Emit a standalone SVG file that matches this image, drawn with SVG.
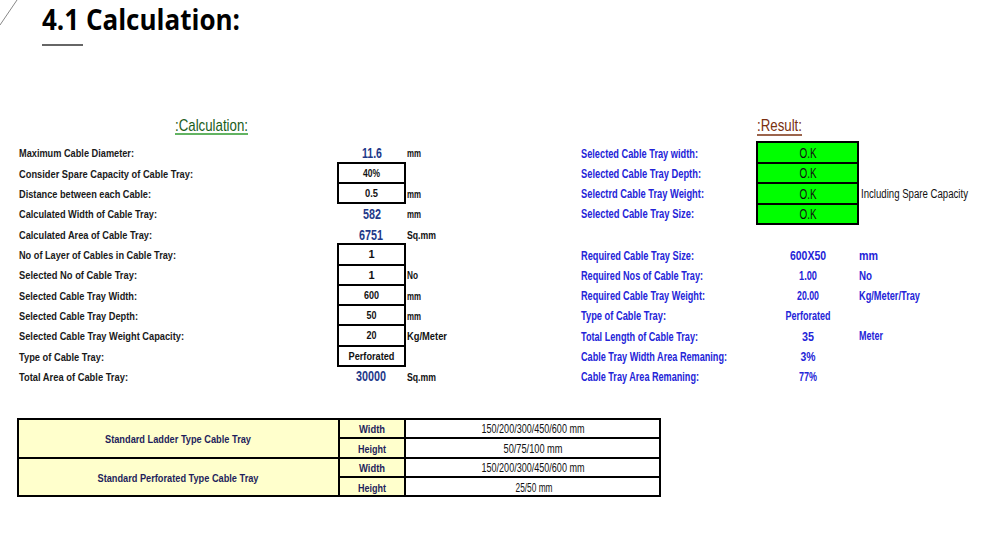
<svg xmlns="http://www.w3.org/2000/svg" width="1000" height="537" viewBox="0 0 1000 537">
<style>
.lbl{font-family:"Liberation Sans",Arial,sans-serif;font-weight:bold;font-size:11.5px;fill:#1a1a1a}
.val{font-family:"Liberation Sans",Arial,sans-serif;font-weight:bold;font-size:14px;fill:#1f3a8a;text-anchor:middle}
.bv{font-family:"Liberation Sans",Arial,sans-serif;font-weight:bold;font-size:11px;fill:#111;text-anchor:middle}
.unit{font-family:"Liberation Sans",Arial,sans-serif;font-weight:bold;font-size:11px;fill:#111}
.rl{font-family:"Liberation Sans",Arial,sans-serif;font-weight:bold;font-size:13.5px;fill:#2424d8}
.rv{font-family:"Liberation Sans",Arial,sans-serif;font-weight:bold;font-size:13.5px;fill:#2424d8;text-anchor:middle}
.ok{font-family:"Liberation Sans",Arial,sans-serif;font-size:14px;fill:#111;text-anchor:middle}
.box{fill:#fff;stroke:#000;stroke-width:2}
.gbox{fill:#00ff00;stroke:#000;stroke-width:2}
.ycell{fill:#ffffcc;stroke:#000;stroke-width:2}
.wcell{fill:#fff;stroke:#000;stroke-width:2}
.tl{font-family:"Liberation Sans",Arial,sans-serif;font-weight:bold;font-size:11.5px;fill:#1f1f5c;text-anchor:middle}
.tv{font-family:"Liberation Sans",Arial,sans-serif;font-size:12px;fill:#111;text-anchor:middle}
</style>
<rect width="1000" height="537" fill="#fff"/>
<line x1="0" y1="25" x2="17" y2="0" stroke="#888" stroke-width="1"/>
<g id="title">
<text x="42" y="30" font-family="'Open Sans',sans-serif" font-weight="bold" font-size="28" fill="#000" textLength="198" lengthAdjust="spacingAndGlyphs">4.1 Calculation:</text>
<line x1="42" y1="45" x2="83" y2="45" stroke="#333" stroke-width="1.5"/>
</g>
<g id="calc-header">
<text x="175" y="131" font-family="'Liberation Sans',Arial,sans-serif" font-size="17" fill="#1a5c1a" textLength="73" lengthAdjust="spacingAndGlyphs">:Calculation:</text>
<line x1="175" y1="134" x2="248" y2="134" stroke="#2e9a2e" stroke-width="1.5"/>
</g>
<g id="result-header">
<text x="757" y="131" font-family="'Liberation Sans',Arial,sans-serif" font-size="17" fill="#7a3010" textLength="45" lengthAdjust="spacingAndGlyphs">:Result:</text>
<line x1="757" y1="135" x2="802" y2="135" stroke="#7a3010" stroke-width="1.5"/>
</g>
<g id="calc-labels">
<text class="lbl" x="19" y="157" textLength="115" lengthAdjust="spacingAndGlyphs">Maximum Cable Diameter:</text>
<text class="lbl" x="19" y="178" textLength="174" lengthAdjust="spacingAndGlyphs">Consider Spare Capacity of Cable Tray:</text>
<text class="lbl" x="19" y="198" textLength="132" lengthAdjust="spacingAndGlyphs">Distance between each Cable:</text>
<text class="lbl" x="19" y="218" textLength="138" lengthAdjust="spacingAndGlyphs">Calculated Width of Cable Tray:</text>
<text class="lbl" x="19" y="239" textLength="133" lengthAdjust="spacingAndGlyphs">Calculated Area of Cable Tray:</text>
<text class="lbl" x="19" y="259" textLength="157" lengthAdjust="spacingAndGlyphs">No of Layer of Cables in Cable Tray:</text>
<text class="lbl" x="19" y="279" textLength="118" lengthAdjust="spacingAndGlyphs">Selected No of Cable Tray:</text>
<text class="lbl" x="19" y="300" textLength="118" lengthAdjust="spacingAndGlyphs">Selected Cable Tray Width:</text>
<text class="lbl" x="19" y="320" textLength="119" lengthAdjust="spacingAndGlyphs">Selected Cable Tray Depth:</text>
<text class="lbl" x="19" y="340" textLength="165" lengthAdjust="spacingAndGlyphs">Selected Cable Tray Weight Capacity:</text>
<text class="lbl" x="19" y="361" textLength="85" lengthAdjust="spacingAndGlyphs">Type of Cable Tray:</text>
<text class="lbl" x="19" y="381" textLength="109" lengthAdjust="spacingAndGlyphs">Total Area of Cable Tray:</text>
</g>
<g id="calc-boxes">
<rect class="box" x="338" y="163" width="67" height="20"/>
<rect class="box" x="338" y="183" width="67" height="20"/>
<rect class="box" x="338" y="244" width="67" height="21"/>
<rect class="box" x="338" y="265" width="67" height="20"/>
<rect class="box" x="338" y="285" width="67" height="20"/>
<rect class="box" x="338" y="305" width="67" height="20"/>
<rect class="box" x="338" y="325" width="67" height="21"/>
<rect class="box" x="338" y="346" width="67" height="20"/>
</g>
<g id="calc-values">
<text class="val" x="372" y="158" textLength="20" lengthAdjust="spacingAndGlyphs">11.6</text>
<text class="bv" x="371.5" y="177" textLength="17" lengthAdjust="spacingAndGlyphs">40%</text>
<text class="bv" x="371.5" y="197" textLength="13" lengthAdjust="spacingAndGlyphs">0.5</text>
<text class="val" x="372" y="219" textLength="18" lengthAdjust="spacingAndGlyphs">582</text>
<text class="val" x="371" y="240" textLength="24" lengthAdjust="spacingAndGlyphs">6751</text>
<text class="bv" x="371.5" y="258">1</text>
<text class="bv" x="371.5" y="279">1</text>
<text class="bv" x="371.5" y="299" textLength="15" lengthAdjust="spacingAndGlyphs">600</text>
<text class="bv" x="371.5" y="319" textLength="10" lengthAdjust="spacingAndGlyphs">50</text>
<text class="bv" x="371.5" y="339" textLength="10" lengthAdjust="spacingAndGlyphs">20</text>
<text class="bv" x="371.5" y="360" textLength="46" lengthAdjust="spacingAndGlyphs">Perforated</text>
<text class="val" x="371" y="381" textLength="30" lengthAdjust="spacingAndGlyphs">30000</text>
</g>
<g id="calc-units">
<text class="unit" x="407" y="157" textLength="14" lengthAdjust="spacingAndGlyphs">mm</text>
<text class="unit" x="407" y="198" textLength="14" lengthAdjust="spacingAndGlyphs">mm</text>
<text class="unit" x="407" y="218" textLength="14" lengthAdjust="spacingAndGlyphs">mm</text>
<text class="unit" x="407" y="239" textLength="29" lengthAdjust="spacingAndGlyphs">Sq.mm</text>
<text class="unit" x="407" y="279" textLength="11" lengthAdjust="spacingAndGlyphs">No</text>
<text class="unit" x="407" y="300" textLength="14" lengthAdjust="spacingAndGlyphs">mm</text>
<text class="unit" x="407" y="320" textLength="14" lengthAdjust="spacingAndGlyphs">mm</text>
<text class="unit" x="407" y="340" textLength="40" lengthAdjust="spacingAndGlyphs">Kg/Meter</text>
<text class="unit" x="407" y="381" textLength="29" lengthAdjust="spacingAndGlyphs">Sq.mm</text>
</g>
<g id="result-checks">
<text class="rl" x="581" y="158" textLength="117" lengthAdjust="spacingAndGlyphs">Selected Cable Tray width:</text>
<text class="rl" x="581" y="178" textLength="120" lengthAdjust="spacingAndGlyphs">Selected  Cable Tray Depth:</text>
<text class="rl" x="581" y="198" textLength="123" lengthAdjust="spacingAndGlyphs">Selectrd  Cable Tray Weight:</text>
<text class="rl" x="581" y="218" textLength="113" lengthAdjust="spacingAndGlyphs">Selected  Cable Tray Size:</text>
<rect class="gbox" x="757" y="142" width="101" height="21"/>
<rect class="gbox" x="757" y="163" width="101" height="20"/>
<rect class="gbox" x="757" y="183" width="101" height="21"/>
<rect class="gbox" x="757" y="204" width="101" height="20"/>
<text class="ok" x="808" y="158" textLength="17" lengthAdjust="spacingAndGlyphs">O.K</text>
<text class="ok" x="808" y="178" textLength="17" lengthAdjust="spacingAndGlyphs">O.K</text>
<text class="ok" x="808" y="199" textLength="17" lengthAdjust="spacingAndGlyphs">O.K</text>
<text class="ok" x="808" y="219" textLength="17" lengthAdjust="spacingAndGlyphs">O.K</text>
<text x="861" y="198" font-family="'Liberation Sans',Arial,sans-serif" font-size="12" fill="#111" textLength="107" lengthAdjust="spacingAndGlyphs">Including Spare Capacity</text>
</g>
<g id="result-values">
<text class="rl" x="581" y="260" textLength="113" lengthAdjust="spacingAndGlyphs">Required Cable Tray Size:</text>
<text class="rl" x="581" y="280" textLength="122" lengthAdjust="spacingAndGlyphs">Required Nos of Cable Tray:</text>
<text class="rl" x="581" y="300" textLength="124" lengthAdjust="spacingAndGlyphs">Required Cable Tray Weight:</text>
<text class="rl" x="581" y="320" textLength="85" lengthAdjust="spacingAndGlyphs">Type of Cable Tray:</text>
<text class="rl" x="581" y="341" textLength="117" lengthAdjust="spacingAndGlyphs">Total Length of Cable Tray:</text>
<text class="rl" x="581" y="361" textLength="146" lengthAdjust="spacingAndGlyphs">Cable Tray Width Area Remaning:</text>
<text class="rl" x="581" y="381" textLength="118" lengthAdjust="spacingAndGlyphs">Cable Tray Area Remaning:</text>
<text class="rv" x="808" y="260" font-size="15" textLength="36" lengthAdjust="spacingAndGlyphs">600X50</text>
<text class="rv" x="808" y="280" textLength="18" lengthAdjust="spacingAndGlyphs">1.00</text>
<text class="rv" x="808" y="300" textLength="22" lengthAdjust="spacingAndGlyphs">20.00</text>
<text class="rv" x="808" y="320" textLength="45" lengthAdjust="spacingAndGlyphs">Perforated</text>
<text class="rv" x="808" y="341" textLength="12" lengthAdjust="spacingAndGlyphs">35</text>
<text class="rv" x="808" y="361" textLength="15" lengthAdjust="spacingAndGlyphs">3%</text>
<text class="rv" x="808" y="381" textLength="18" lengthAdjust="spacingAndGlyphs">77%</text>
<text class="rl" x="859" y="260" font-size="15" textLength="19" lengthAdjust="spacingAndGlyphs">mm</text>
<text class="rl" x="859" y="280" textLength="13" lengthAdjust="spacingAndGlyphs">No</text>
<text class="rl" x="859" y="300" textLength="61" lengthAdjust="spacingAndGlyphs">Kg/Meter/Tray</text>
<text class="rl" x="859" y="340" font-size="11" textLength="24" lengthAdjust="spacingAndGlyphs">Meter</text>
</g>
<g id="standard-table">
<rect class="ycell" x="18" y="419" width="321" height="39"/>
<rect class="ycell" x="18" y="458" width="321" height="38"/>
<rect class="ycell" x="339" y="419" width="66" height="19"/>
<rect class="ycell" x="339" y="438" width="66" height="20"/>
<rect class="ycell" x="339" y="458" width="66" height="19"/>
<rect class="ycell" x="339" y="477" width="66" height="19"/>
<rect class="wcell" x="405" y="419" width="255" height="19"/>
<rect class="wcell" x="405" y="438" width="255" height="20"/>
<rect class="wcell" x="405" y="458" width="255" height="19"/>
<rect class="wcell" x="405" y="477" width="255" height="19"/>
<text class="tl" x="178" y="443" textLength="146" lengthAdjust="spacingAndGlyphs">Standard Ladder Type Cable Tray</text>
<text class="tl" x="178" y="482" textLength="161" lengthAdjust="spacingAndGlyphs">Standard Perforated Type Cable Tray</text>
<text class="tl" x="372" y="433" textLength="26" lengthAdjust="spacingAndGlyphs">Width</text>
<text class="tl" x="372" y="453" textLength="28" lengthAdjust="spacingAndGlyphs">Height</text>
<text class="tl" x="372" y="472" textLength="26" lengthAdjust="spacingAndGlyphs">Width</text>
<text class="tl" x="372" y="492" textLength="28" lengthAdjust="spacingAndGlyphs">Height</text>
<text class="tv" x="533" y="433" textLength="103" lengthAdjust="spacingAndGlyphs">150/200/300/450/600 mm</text>
<text class="tv" x="533" y="453" textLength="59" lengthAdjust="spacingAndGlyphs">50/75/100 mm</text>
<text class="tv" x="533" y="472" textLength="103" lengthAdjust="spacingAndGlyphs">150/200/300/450/600 mm</text>
<text class="tv" x="534" y="492" textLength="37" lengthAdjust="spacingAndGlyphs">25/50 mm</text>
</g>
</svg>
